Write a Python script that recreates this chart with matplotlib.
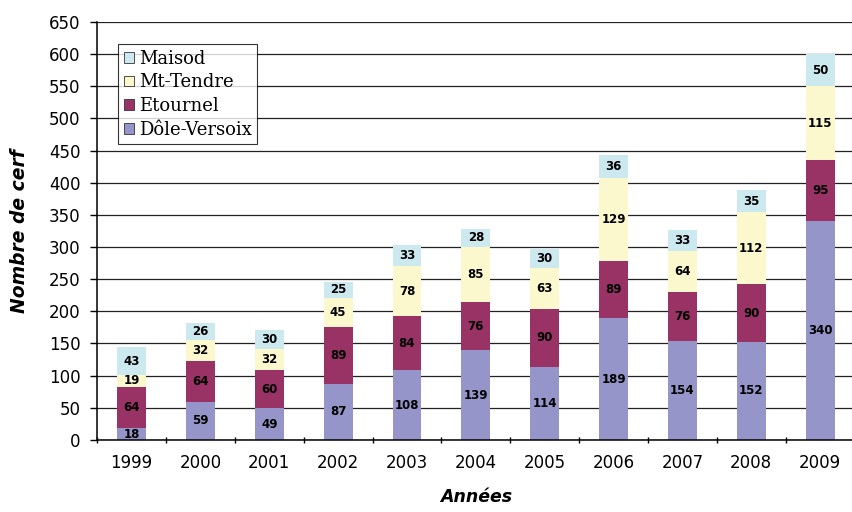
import matplotlib
matplotlib.use('Agg')
from matplotlib import pyplot as plt
from matplotlib.ticker import FixedLocator
import numpy as np

# Cerfs comptés par secteur, 1999-2009
years = ['1999', '2000', '2001', '2002', '2003', '2004', '2005', '2006', '2007', '2008', '2009']
dole_versoix = [18, 59, 49, 87, 108, 139, 114, 189, 154, 152, 340]
etournel = [64, 64, 60, 89, 84, 76, 90, 89, 76, 90, 95]
mt_tendre = [19, 32, 32, 45, 78, 85, 63, 129, 64, 112, 115]
maisod = [43, 26, 30, 25, 33, 28, 30, 36, 33, 35, 50]

series = [
    ('Dôle-Versoix', dole_versoix, '#9595c9'),
    ('Etournel', etournel, '#993366'),
    ('Mt-Tendre', mt_tendre, '#fbf8cd'),
    ('Maisod', maisod, '#cde9f0'),
]

fig = plt.figure(figsize=(8.52, 5.12), dpi=100)
ax = fig.add_axes([0.114, 0.141, 0.889, 0.816])

x = np.arange(len(years))
bottom = np.zeros(len(years))
handles = []
for name, vals, col in series:
    bars = ax.bar(x, vals, 0.42, bottom=bottom, color=col, label=name, zorder=2)
    handles.append(bars)
    for xi, b, v in zip(x, bottom, vals):
        ax.text(xi, b + v / 2, str(v), ha='center', va='center',
                fontsize=8.5, fontweight='bold', color='black', zorder=3)
    bottom += vals

ax.set_xlim(-0.5, len(years) - 0.5)
ax.set_ylim(0, 650)
ax.set_yticks(range(0, 651, 50))
ax.yaxis.grid(True, color='#222222', linewidth=0.9, zorder=0)
ax.set_axisbelow(True)

ax.set_xticks(x)
ax.set_xticklabels(years, fontsize=12)
ax.xaxis.set_minor_locator(FixedLocator(np.arange(-0.5, len(years), 1.0)))
ax.tick_params(axis='x', which='major', length=0, pad=10)
ax.tick_params(axis='x', which='minor', length=5, direction='inout', width=1)
ax.tick_params(axis='y', labelsize=12, length=5, direction='out', width=1, pad=7)

for s in ['top', 'right']:
    ax.spines[s].set_visible(False)
ax.spines['left'].set_linewidth(1.1)
ax.spines['bottom'].set_linewidth(1.1)

ax.set_ylabel('Nombre de cerf', fontsize=13.5, fontstyle='italic',
              fontweight='bold', labelpad=14)
ax.set_xlabel('Années', fontsize=12.5, fontstyle='italic',
              fontweight='bold', labelpad=12)

leg = ax.legend(handles[::-1], [s[0] for s in series][::-1],
                loc='upper left', bbox_to_anchor=(0.028, 0.947),
                prop={'family': 'DejaVu Serif', 'size': 13},
                frameon=True, fancybox=False, edgecolor='black',
                handlelength=0.55, handleheight=0.55, handletextpad=0.3,
                borderpad=0.3, labelspacing=0.32, borderaxespad=0)
leg.get_frame().set_linewidth(0.8)
for h in leg.legend_handles:
    h.set_edgecolor('#333333')
    h.set_linewidth(0.6)

fig.savefig('out.png', dpi=100)
